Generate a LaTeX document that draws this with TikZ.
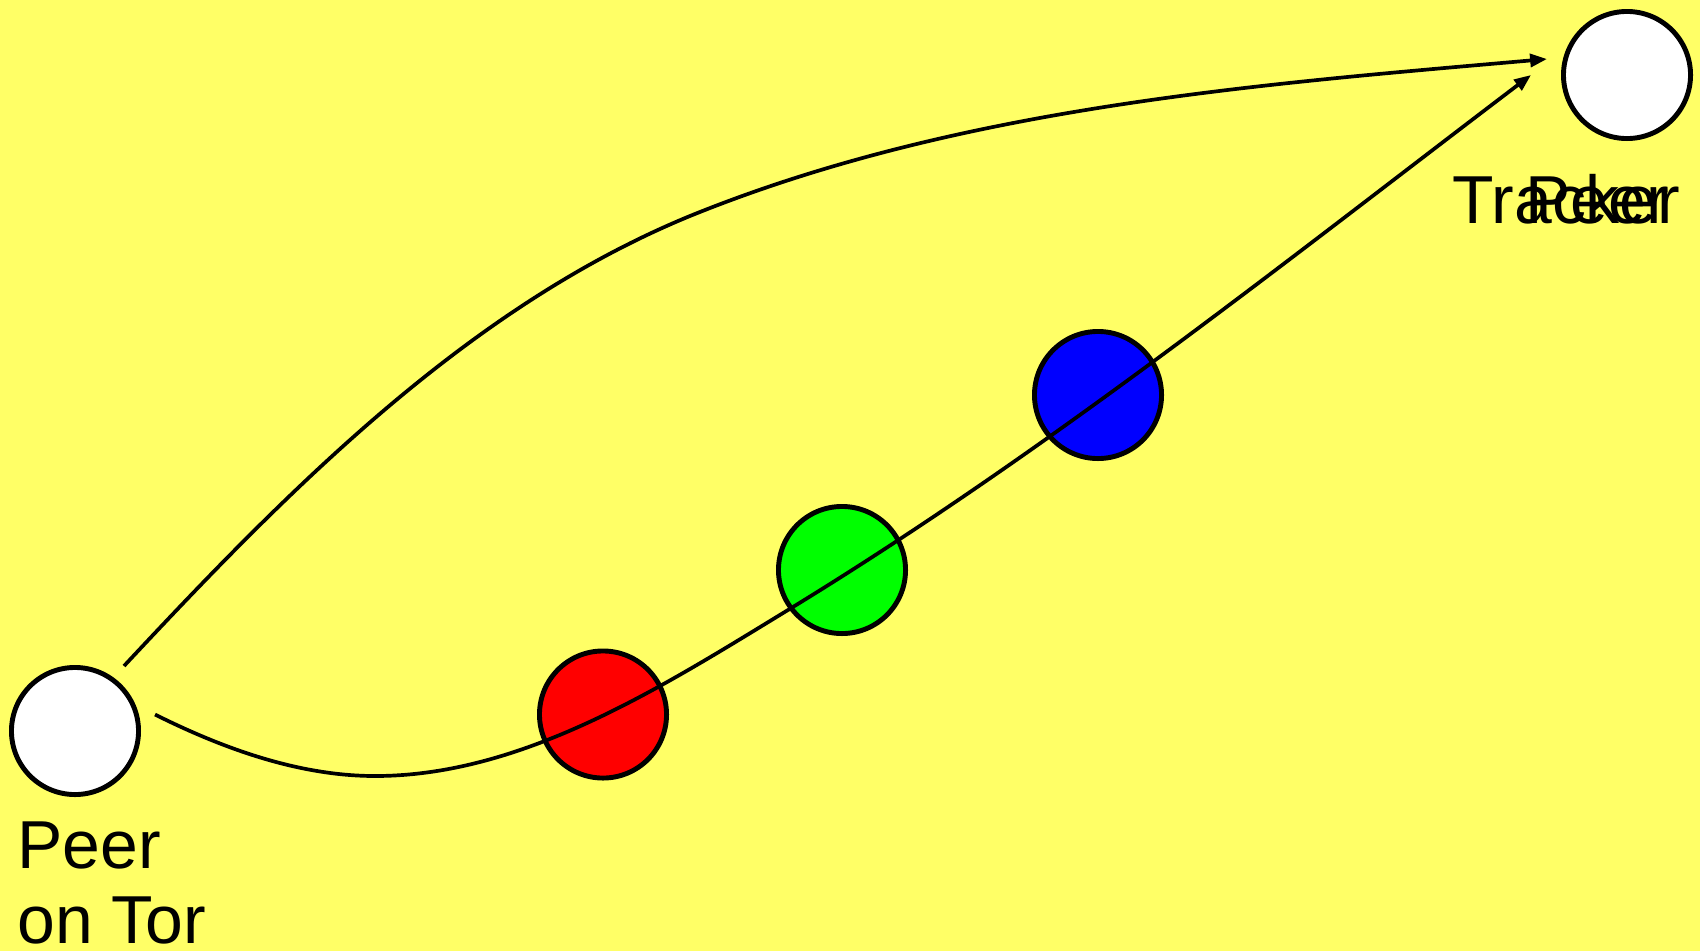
\documentclass[tikz,border=0pt]{standalone}
\usepackage{fontspec}
\setmainfont{Liberation Sans}
\usetikzlibrary{arrows.meta}
\definecolor{bgyellow}{RGB}{255,255,102}
\begin{document}
\begin{tikzpicture}[x=0.01cm,y=-0.01cm,
  peernode/.style={circle,draw=black,line width=1.4pt,minimum size=1.27cm,inner sep=0pt},
  conn/.style={draw=black,line width=1.05pt,-{Triangle[length=4.8pt,width=3.7pt]}},
  lbl/.style={inner sep=0pt,font=\fontsize{19.3}{21.3}\selectfont}]
\fill[bgyellow] (0,0) rectangle (1700,951);
\useasboundingbox (0,0) rectangle (1700,951);
% nodes
\node[peernode,fill=white] (peer) at (75,731) {};
\node[peernode,fill=white] (tracker) at (1627,75) {};
\node[peernode,fill=red] (red) at (603,714.5) {};
\node[peernode,fill=green] (green) at (842,570) {};
\node[peernode,fill=blue] (blue) at (1098,395) {};
% labels
\node[lbl,anchor=base west,align=left] (peerlabel) at (17,943) {Peer\\on Tor};
\node[lbl,anchor=base west] (trackerlabel) at (1452,223) {Tracker};
\node[lbl,anchor=base west] (peer2label) at (1525,223) {Peer};
% connector end points
\coordinate (s1) at (124,666);
\coordinate (m1) at (705,210);
\coordinate (e1) at (1547,59);
\coordinate (s2) at (155,714.5);
\coordinate (m2) at (375,776);
\coordinate (m3) at (788,610);
\coordinate (e2) at (1531,75);
% connectors
\draw[conn] (s1) .. controls (292,486) and (476,299) .. (m1)
               .. controls (970,106) and (1263,84) .. (e1);
\draw[conn] (s2) .. controls (223,748.5) and (299,776) .. (m2)
               .. controls (523,776) and (661.6,687) .. (m3)
               .. controls (1048.5,451) and (1288,259.5) .. (e2);
\end{tikzpicture}
\end{document}
